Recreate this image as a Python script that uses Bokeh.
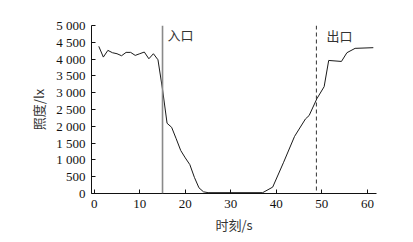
from bokeh.plotting import figure
from bokeh.models import Range1d, FixedTicker, Span, Label
from bokeh.embed import file_html
from bokeh.resources import INLINE

# data
time_s = [1, 2, 3, 4, 5, 6, 7, 8, 9, 10, 11, 12, 13, 14, 15, 16, 17, 18, 19, 20,
          21, 22, 23, 24, 25, 37, 39.2, 41.6, 44, 46.4, 47.2, 48.9, 50.5, 51.5,
          54.3, 55.5, 57.3, 61.3]
lux = [4380, 4060, 4260, 4190, 4160, 4100, 4200, 4200, 4110, 4160, 4210, 4010,
       4160, 3980, 3100, 2090, 1970, 1630, 1280, 1060, 860, 480, 170, 50, 25,
       25, 190, 930, 1700, 2220, 2320, 2820, 3180, 3960, 3930, 4190, 4320, 4340]

entrance_t = 15
exit_t = 48.8
entrance_label = "入口"
exit_label = "出口"

x_ticks = [0, 10, 20, 30, 40, 50, 60]
y_ticks = [0, 500, 1000, 1500, 2000, 2500, 3000, 3500, 4000, 4500, 5000]
y_tick_labels = ["0", "500", "1 000", "1 500", "2 000", "2 500", "3 000",
                 "3 500", "4 000", "4 500", "5 000"]

x_title = "时刻/s"
y_title = "照度/lx"

p = figure(width=413, height=242, output_backend="svg", toolbar_location=None,
           x_range=Range1d(-0.6, 62), y_range=Range1d(0, 5000),
           min_border_left=91, min_border_right=37, min_border_top=25,
           min_border_bottom=49)
p.outline_line_color = None
p.xgrid.visible = False
p.ygrid.visible = False
p.background_fill_color = "white"
p.border_fill_color = "white"

p.line(time_s, lux, line_color="#1a1a1a", line_width=1)

p.add_layout(Span(location=entrance_t, dimension="height",
                  line_color="#8a8a8a", line_width=1.6))
p.add_layout(Span(location=exit_t, dimension="height",
                  line_color="#333333", line_width=1, line_dash="4 3"))

p.add_layout(Label(x=entrance_t + 1.1, y=4730, text=entrance_label,
                   text_font="Noto Sans CJK SC", text_font_size="13px",
                   text_color="#333333", text_baseline="middle"))
p.add_layout(Label(x=exit_t + 2.2, y=4700, text=exit_label,
                   text_font="Noto Sans CJK SC", text_font_size="13px",
                   text_color="#333333", text_baseline="middle"))

for ax in (p.xaxis[0], p.yaxis[0]):
    ax.axis_line_color = "#111111"
    ax.axis_line_width = 1
    ax.major_tick_in = 4
    ax.major_tick_out = 0
    ax.minor_tick_line_color = None
    ax.major_tick_line_color = "#111111"
    ax.major_label_text_font = "Liberation Serif"
    ax.major_label_text_font_size = "13px"
    ax.major_label_text_color = "#111111"
    ax.axis_label_text_font = "Noto Sans CJK SC"
    ax.axis_label_text_font_size = "13px"
    ax.axis_label_text_font_style = "normal"
    ax.axis_label_text_color = "#333333"

p.xaxis.ticker = FixedTicker(ticks=x_ticks)
p.yaxis.ticker = FixedTicker(ticks=y_ticks)
p.yaxis.major_label_overrides = {t: s for t, s in zip(y_ticks, y_tick_labels)}
p.xaxis.axis_label = x_title
p.yaxis.axis_label = y_title
p.xaxis.major_label_standoff = 6
p.yaxis.major_label_standoff = 6
p.xaxis.axis_label_standoff = 4
p.yaxis.axis_label_standoff = 5

open("out.html", "w").write(file_html(p, INLINE))
